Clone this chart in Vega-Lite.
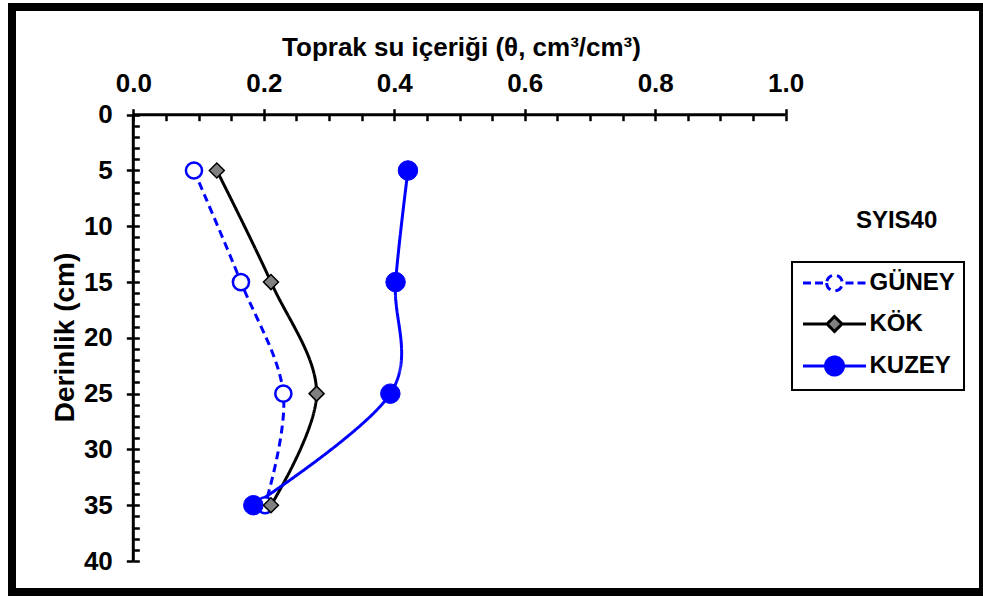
{
  "$schema": "https://vega.github.io/schema/vega-lite/v6.json",
  "width": 971,
  "height": 585,
  "autosize": "none",
  "padding": {"left": 12, "top": 7, "right": 0, "bottom": 5},
  "background": "white",
  "config": {
    "view": {"stroke": "black", "strokeWidth": 8},
    "font": "Liberation Sans",
    "axis": {
      "grid": false,
      "domain": false,
      "labelFont": "Liberation Sans",
      "labelFontWeight": "bold",
      "labelColor": "black",
      "labelFlush": false,
      "labelOverlap": false,
      "tickColor": "black",
      "tickWidth": 2.5,
      "titleFont": "Liberation Sans",
      "titleFontWeight": "bold",
      "titleColor": "black"
    }
  },
  "datasets": {
    "nem": [
      {"konum": "GÜNEY", "derinlik": 5, "theta": 0.093},
      {"konum": "GÜNEY", "derinlik": 15, "theta": 0.165},
      {"konum": "GÜNEY", "derinlik": 25, "theta": 0.230},
      {"konum": "GÜNEY", "derinlik": 35, "theta": 0.202},
      {"konum": "KÖK", "derinlik": 5, "theta": 0.128},
      {"konum": "KÖK", "derinlik": 15, "theta": 0.211},
      {"konum": "KÖK", "derinlik": 25, "theta": 0.281},
      {"konum": "KÖK", "derinlik": 35, "theta": 0.211},
      {"konum": "KUZEY", "derinlik": 5, "theta": 0.421},
      {"konum": "KUZEY", "derinlik": 15, "theta": 0.402},
      {"konum": "KUZEY", "derinlik": 25, "theta": 0.394},
      {"konum": "KUZEY", "derinlik": 35, "theta": 0.184}
    ]
  },
  "layer": [
    {
      "data": {"values": [{}]},
      "mark": {"type": "rule", "color": "black", "strokeWidth": 3},
      "encoding": {
        "x": {
          "datum": 0, "type": "quantitative",
          "scale": {"domain": [-0.18593, 1.30242], "nice": false, "zero": false},
          "axis": {
            "orient": "top", "offset": -107.7,
            "values": [0, 0.2, 0.4, 0.6, 0.8, 1],
            "format": ".1f",
            "tickSize": 6,
            "labelFontSize": 26, "labelPadding": 17, "labelBaseline": "alphabetic",
            "title": "Toprak su içeriği (θ, cm³/cm³)",
            "titleFontSize": 26, "titleX": 449, "titleY": -58.7,
            "titleAlign": "center", "titleBaseline": "alphabetic"
          }
        },
        "x2": {"datum": 1},
        "y": {
          "datum": 0, "type": "quantitative",
          "scale": {"domain": [-9.652, 42.777], "nice": false, "zero": false, "reverse": true},
          "axis": {
            "orient": "left", "offset": -121.3,
            "values": [0, 5, 10, 15, 20, 25, 30, 35, 40],
            "tickSize": 7,
            "labelFontSize": 26, "labelPadding": 14, "labelBaseline": "middle",
            "title": "Derinlik (cm)",
            "titleFontSize": 28, "titleX": -68, "titleY": 330, "titleAngle": 270,
            "titleAlign": "center", "titleBaseline": "middle"
          }
        }
      }
    },
    {
      "data": {"values": [{}]},
      "mark": {"type": "rule", "color": "black", "strokeWidth": 3},
      "encoding": {
        "x": {
          "datum": 0, "type": "quantitative",
          "scale": {"domain": [-0.18593, 1.30242], "nice": false, "zero": false},
          "axis": {
            "orient": "top", "offset": -107.7,
            "values": [0, 0.05, 0.1, 0.15, 0.2, 0.25, 0.3, 0.35, 0.4, 0.45, 0.5, 0.55, 0.6, 0.65, 0.7, 0.75, 0.8, 0.85, 0.9, 0.95, 1],
            "tickSize": -6, "labels": false, "title": null
          }
        },
        "y": {
          "datum": 0, "type": "quantitative",
          "scale": {"domain": [-9.652, 42.777], "nice": false, "zero": false, "reverse": true},
          "axis": {
            "orient": "left", "offset": -121.3,
            "values": [0, 1, 2, 3, 4, 5, 6, 7, 8, 9, 10, 11, 12, 13, 14, 15, 16, 17, 18, 19, 20, 21, 22, 23, 24, 25, 26, 27, 28, 29, 30, 31, 32, 33, 34, 35, 36, 37, 38, 39, 40],
            "tickSize": -6, "labels": false, "title": null
          }
        },
        "y2": {"datum": 40}
      }
    },
    {
      "data": {"name": "nem"},
      "mark": {"type": "line", "interpolate": "cardinal", "strokeWidth": 3},
      "encoding": {
        "x": {"field": "theta", "type": "quantitative", "scale": {"domain": [-0.18593, 1.30242], "nice": false, "zero": false}, "axis": null},
        "y": {"field": "derinlik", "type": "quantitative", "scale": {"domain": [-9.652, 42.777], "nice": false, "zero": false, "reverse": true}, "axis": null},
        "order": {"field": "derinlik", "type": "quantitative"},
        "stroke": {
          "field": "konum", "type": "nominal",
          "scale": {"domain": ["GÜNEY", "KÖK", "KUZEY"], "range": ["#0000ff", "#000000", "#0000ff"]},
          "legend": {
            "title": null,
            "orient": "none", "legendX": 780, "legendY": 255,
            "padding": 9,
            "strokeColor": "black",
            "symbolSize": 400,
            "symbolStrokeWidth": 3,
            "symbolOffset": 21.5,
            "labelOffset": 23,
            "rowPadding": 13,
            "labelFont": "Liberation Sans", "labelFontWeight": "bold", "labelFontSize": 24, "labelColor": "black",
            "encode": {
              "legend": {"update": {"strokeWidth": {"value": 2}}},
              "symbols": {
                "update": {
                  "shape": {"signal": "datum.value === 'GÜNEY' ? 'M-3.15,0H-2.3M-1.95,0H-1.1M1.1,0H1.95M2.3,0H3.15M-0.78,0A0.78,0.78,0,1,0,0.78,0A0.78,0.78,0,1,0,-0.78,0Z' : datum.value === 'KÖK' ? 'M-3.15,0H-0.75M0.75,0H3.15M-0.75,0L0,-0.75L0.75,0L0,0.75Z' : 'M-3.15,0H3.15M-0.9,0A0.9,0.9,0,1,0,0.9,0A0.9,0.9,0,1,0,-0.9,0Z'"},
                  "fill": {"signal": "datum.value === 'GÜNEY' ? '#ffffff' : datum.value === 'KÖK' ? '#808080' : '#0000ff'"},
                  "stroke": {"signal": "datum.value === 'KÖK' ? '#000000' : '#0000ff'"},
                  "strokeWidth": {"value": 3},
                  "strokeDash": {"value": []},
                  "size": {"value": 400},
                  "opacity": {"value": 1},
                  "fillOpacity": {"value": 1},
                  "strokeOpacity": {"value": 1}
                }
              }
            }
          }
        },
        "strokeDash": {
          "field": "konum", "type": "nominal",
          "scale": {"domain": ["GÜNEY", "KÖK", "KUZEY"], "range": [[8, 5], [1, 0], [1, 0]]},
          "legend": null
        }
      }
    },
    {
      "data": {"name": "nem"},
      "transform": [{"filter": "datum.konum === 'GÜNEY'"}],
      "mark": {"type": "point", "shape": "circle", "filled": false, "fill": "#ffffff", "stroke": "#0000ff", "strokeWidth": 2.5, "size": 260, "opacity": 1},
      "encoding": {
        "x": {"field": "theta", "type": "quantitative", "scale": {"domain": [-0.18593, 1.30242], "nice": false, "zero": false}, "axis": null},
        "y": {"field": "derinlik", "type": "quantitative", "scale": {"domain": [-9.652, 42.777], "nice": false, "zero": false, "reverse": true}, "axis": null}
      }
    },
    {
      "data": {"name": "nem"},
      "transform": [{"filter": "datum.konum === 'KUZEY'"}],
      "mark": {"type": "point", "shape": "circle", "filled": true, "fill": "#0000ff", "stroke": "#0000ff", "strokeWidth": 1, "size": 380, "opacity": 1},
      "encoding": {
        "x": {"field": "theta", "type": "quantitative", "scale": {"domain": [-0.18593, 1.30242], "nice": false, "zero": false}, "axis": null},
        "y": {"field": "derinlik", "type": "quantitative", "scale": {"domain": [-9.652, 42.777], "nice": false, "zero": false, "reverse": true}, "axis": null}
      }
    },
    {
      "data": {"name": "nem"},
      "transform": [{"filter": "datum.konum === 'KÖK'"}],
      "mark": {"type": "point", "shape": "diamond", "filled": true, "fill": "#808080", "stroke": "#000000", "strokeWidth": 1.5, "size": 225, "opacity": 1},
      "encoding": {
        "x": {"field": "theta", "type": "quantitative", "scale": {"domain": [-0.18593, 1.30242], "nice": false, "zero": false}, "axis": null},
        "y": {"field": "derinlik", "type": "quantitative", "scale": {"domain": [-9.652, 42.777], "nice": false, "zero": false, "reverse": true}, "axis": null}
      }
    },
    {
      "data": {"values": [{"etiket": "SYIS40"}]},
      "mark": {"type": "text", "font": "Liberation Sans", "fontWeight": "bold", "fontSize": 24, "color": "black", "align": "center", "baseline": "middle"},
      "encoding": {
        "x": {"datum": 1.17, "type": "quantitative", "scale": {"domain": [-0.18593, 1.30242], "nice": false, "zero": false}, "axis": null},
        "y": {"datum": 9.5, "type": "quantitative", "scale": {"domain": [-9.652, 42.777], "nice": false, "zero": false, "reverse": true}, "axis": null},
        "text": {"field": "etiket"}
      }
    }
  ],
  "resolve": {"axis": {"x": "independent", "y": "independent"}}
}
